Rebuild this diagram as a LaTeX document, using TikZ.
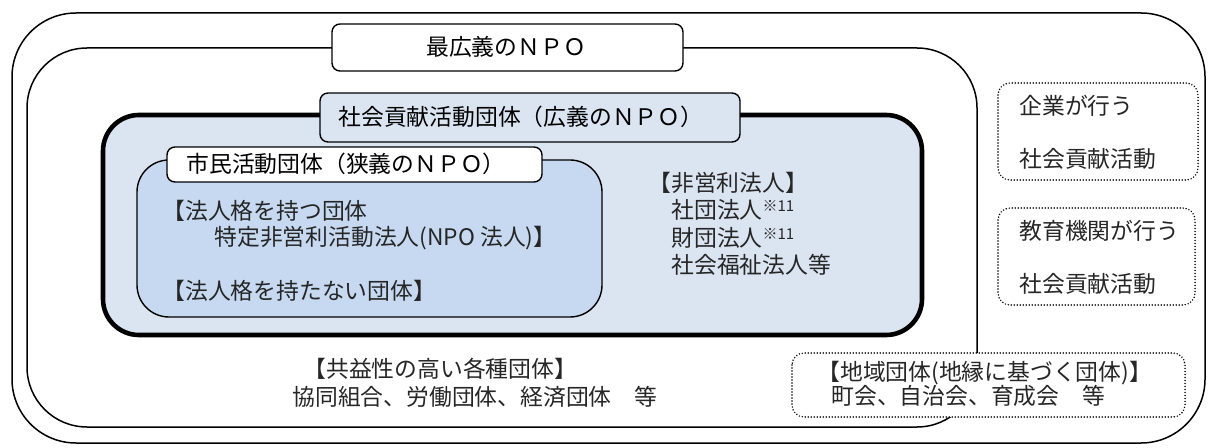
\documentclass[tikz,border=0pt]{standalone}
\usepackage{fontspec}
\setmainfont{Noto Sans CJK JP}
\definecolor{paleblue}{HTML}{DBE5F1}
\definecolor{midblue}{HTML}{C6D9F1}
\newcommand{\kome}{\raisebox{3.6pt}{\fontsize{7.5pt}{8pt}\selectfont ※11}}
\begin{document}
\begin{tikzpicture}[x=0.5pt,y=-0.5pt,
  txt/.style={inner sep=0pt, anchor=west, font=\fontsize{11.4pt}{13pt}\selectfont, text height=0.83em, text depth=0.07em},
  body/.style={txt, text=black!85},
  lab/.style={txt, anchor=center},
  labbox/.style={line width=0.7pt, rounded corners=4pt},
  dotbox/.style={line width=0.8pt, line cap=round, dash pattern=on 0pt off 1.5pt, rounded corners=6pt, fill=white}]
\useasboundingbox (0,0) rectangle (1208,448);
% outermost frame
\draw[line width=0.75pt, rounded corners=32pt] (12,13) rectangle (1205,443);
% widest NPO frame
\draw[line width=0.75pt, rounded corners=30pt] (27,48) rectangle (977,427);
\draw[labbox, fill=white] (332,24) rectangle (683,71);
\node[lab] (t1) at (506,47.5) {最広義のＮＰＯ};
% broad NPO
\draw[line width=2.3pt, fill=paleblue, rounded corners=18pt] (103,115) rectangle (922,335);
\draw[labbox, fill=paleblue] (320,93) rectangle (740,142);
\node[txt] (t2) at (338,117.5) {社会貢献活動団体（広義のＮＰＯ）};
% narrow NPO
\draw[line width=0.7pt, fill=midblue, rounded corners=16pt] (137,160) rectangle (602,317);
\draw[labbox, fill=white] (167,147) rectangle (542,182);
\node[txt] (t3) at (186,164.5) {市民活動団体（狭義のＮＰＯ）};
\node[body] (a1) at (162,212) {【法人格を持つ団体};
\node[body] (a2) at (214,238) {特定非営利活動法人(NPO 法人)】};
\node[body] (a3) at (162,292) {【法人格を持たない団体】};
% non-profit corporations
\node[body] (b1) at (648,184) {【非営利法人】};
\node[body] (b2) at (671,211) {社団法人\kome};
\node[body] (b3) at (671,239) {財団法人\kome};
\node[body] (b4) at (671,266) {社会福祉法人等};
% public-interest groups
\node[body] (c1) at (303,370) {【共益性の高い各種団体】};
\node[body] (c2) at (292,398) {協同組合、労働団体、経済団体　等};
% dotted boxes
\draw[dotbox] (998,83) rectangle (1198,180);
\node[body] (d1) at (1019,107) {企業が行う};
\node[body] (d2) at (1019,160) {社会貢献活動};
\draw[dotbox] (998,208) rectangle (1195,305);
\node[body] (e1) at (1019,232) {教育機関が行う};
\node[body] (e2) at (1019,285) {社会貢献活動};
\draw[dotbox] (792,353) rectangle (1185,417);
\node[body] (f1) at (817,373) {【地域団体(地縁に基づく団体)】};
\node[body] (f2) at (831,397) {町会、自治会、育成会　等};
\end{tikzpicture}
\end{document}
